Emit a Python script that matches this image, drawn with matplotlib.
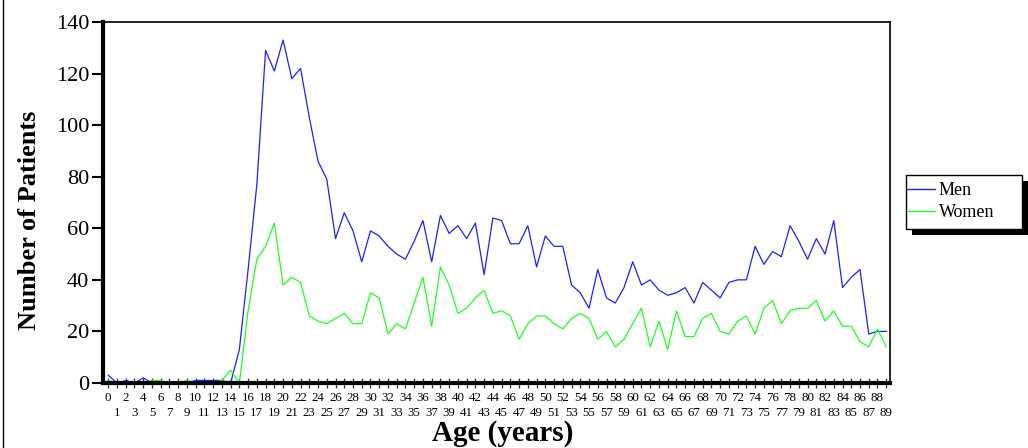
import numpy as np
import matplotlib
matplotlib.use("Agg")
import matplotlib.pyplot as plt
from matplotlib.patches import Rectangle
from matplotlib.lines import Line2D

plt.rcParams['font.family'] = ['Liberation Serif', 'DejaVu Serif']

# ages 0..89
ages = list(range(0, 90))

men = [3, 0, 1, 0, 2, 0, 0, 0, 0, 0, 1, 1, 1, 1, 0, 13, 44, 77, 129, 121,
       133, 118, 122, 103, 86, 79, 56, 66, 59, 47, 59, 57, 53, 50, 48, 55, 63, 47, 65, 58,
       61, 56, 62, 42, 64, 63, 54, 54, 61, 45, 57, 53, 53, 38, 35, 29, 44, 33, 31, 37,
       47, 38, 40, 36, 34, 35, 37, 31, 39, 36, 33, 39, 40, 40, 53, 46, 51, 49, 61, 55,
       48, 56, 50, 63, 37, 41, 44, 19, 20, 20]

women = [1, 0, 0, 0, 0, 1, 1, 0, 0, 1, 0, 0, 0, 1, 5, 0, 28, 48, 53, 62,
         38, 41, 39, 26, 24, 23, 25, 27, 23, 23, 35, 33, 19, 23, 21, 31, 41, 22, 45, 38,
         27, 29, 33, 36, 27, 28, 26, 17, 23, 26, 26, 23, 21, 25, 27, 25, 17, 20, 14, 17,
         23, 29, 14, 24, 13, 28, 18, 18, 25, 27, 20, 19, 24, 26, 19, 29, 32, 23, 28, 29,
         29, 32, 24, 28, 22, 22, 16, 14, 21, 14]

y_ticks = [0, 20, 40, 60, 80, 100, 120, 140]
even_ages = ages[0::2]
odd_ages = ages[1::2]

W, H = 1028, 448
fig = plt.figure(figsize=(W / 100, H / 100), dpi=100)
ax = fig.add_axes([103 / W, 65 / H, 787 / W, 361 / H])

men_color = '#1f1fff'
women_color = '#1fff1f'
ax.plot(ages, men, color=men_color, lw=0.9, label='Men')
ax.plot(ages, women, color=women_color, lw=0.9, label='Women')

ax.set_xlim(-0.6, 89.43)
ax.set_ylim(0, 140)

# x tick labels staggered on two rows
ax.set_xticks(even_ages)
ax.set_xticklabels([str(a) for a in even_ages], fontsize=9.3)
ax.set_xticks(odd_ages, minor=True)
ax.set_xticklabels([str(a) for a in odd_ages], minor=True, fontsize=9.3)
ax.tick_params(axis='x', which='major', direction='inout', length=7, width=0.9,
               pad=3, color='#333333')
ax.tick_params(axis='x', which='minor', direction='inout', length=7, width=0.9,
               pad=13.5, color='#333333')
ax.set_yticks(y_ticks)
ax.tick_params(axis='y', direction='out', length=8, width=1.5, pad=2, labelsize=16)

for side in ['left', 'bottom']:
    ax.spines[side].set_linewidth(3)
for side in ['top', 'right']:
    ax.spines[side].set_linewidth(1.2)

fig.text(30 / W, 1 - 220 / H, 'Number of Patients', fontsize=19, fontweight='bold',
         rotation=90, ha='center', va='center')
fig.text(503 / W, 1 - 433 / H, 'Age (years)', fontsize=21, fontweight='bold',
         ha='center', va='center')

# left edge border line
fig.add_artist(Line2D([2.5 / W, 2.5 / W], [0, 1], color='black', lw=1,
                      transform=fig.transFigure))

# legend box with drop shadow
bx0, bx1, by0, by1 = 906, 1022, 175, 229
fig.add_artist(Rectangle(((bx0 + 6) / W, 1 - (by1 + 6) / H), (bx1 - bx0) / W, (by1 - by0) / H,
                         transform=fig.transFigure, facecolor='black', edgecolor='none', zorder=3))
fig.add_artist(Rectangle((bx0 / W, 1 - by1 / H), (bx1 - bx0) / W, (by1 - by0) / H,
                         transform=fig.transFigure, facecolor='white', edgecolor='black',
                         lw=1.0, zorder=4))

handles = [Line2D([], [], color=men_color, lw=1.0), Line2D([], [], color=women_color, lw=1.0)]
leg = fig.legend(handles, ['Men', 'Women'], loc='upper left',
                 bbox_to_anchor=(907 / W, 1 - 182 / H), fontsize=13,
                 frameon=False, borderpad=0, handlelength=1.55, handletextpad=0.2,
                 labelspacing=0.28, borderaxespad=0)
leg.set_zorder(5)

fig.savefig('out.png', dpi=100)
